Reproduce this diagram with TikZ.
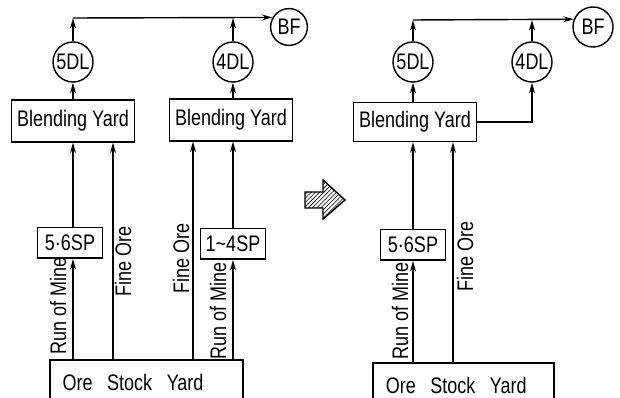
\documentclass[tikz,border=0pt]{standalone}
\usepackage{fontspec}
\setmainfont{Liberation Sans}[FakeStretch=0.8]
\usetikzlibrary{positioning,patterns,calc,arrows.meta}

\begin{document}
\begin{tikzpicture}[x=0.025cm, y=-0.025cm, >={Stealth[length=7.5pt,width=4.2pt]}, line width=1pt, font=\fontsize{16}{18}\selectfont]
  \tikzstyle{yard} = [rectangle, draw, minimum width=3.08cm, minimum height=1.04cm, inner sep=1pt]
  \tikzstyle{stock} = [rectangle, draw, minimum height=1.1cm, inner xsep=0.32cm, align=left]
  \tikzstyle{plant} = [rectangle, draw, minimum width=1.63cm, minimum height=0.76cm, inner sep=1pt]
  \tikzstyle{dl} = [circle, draw, minimum size=1cm, inner sep=0pt]
  \tikzstyle{flow} = [rotate=90, inner sep=1pt]

  \useasboundingbox (0,0) rectangle (620,398);

  % before
  \node[yard] (byL) at (73,121) {Blending Yard};
  \node[yard] (byM) at (231,120) {Blending Yard};
  \node[dl] (dlA) at (73,62) {5DL};
  \node[dl] (dlB) at (233,62) {4DL};
  \node[dl, minimum size=0.92cm] (bfL) at (289,27) {BF};
  \coordinate (busL) at (73,18);
  \node[plant] (spA) at (70,243) {5·6SP};
  \node[plant] (spB) at (233,244) {1\textasciitilde 4SP};
  \node[stock, text width=4.19cm] (osyL) at (146.5,382) {Ore\hspace{5pt} Stock\hspace{5pt} Yard};
  \coordinate (fineA) at (113,250);
  \coordinate (fineB) at (193,250);
  \coordinate (runB) at (233,250);
  \node[flow] (romA) at (58,306) {Run of Mine};
  \node[flow] (foA) at (123,261) {Fine Ore};
  \node[flow] (foB) at (181,258) {Fine Ore};
  \node[flow] (romB) at (218,311) {Run of Mine};

  \draw[->] (osyL.north -| busL) -- (spA.south -| busL);
  \draw[->] (spA.north -| busL) -- (byL.south -| busL);
  \draw[->] (osyL.north -| fineA) -- (byL.south -| fineA);
  \draw[->] (osyL.north -| fineB) -- (byM.south -| fineB);
  \draw[->] (osyL.north -| runB) -- (spB.south -| runB);
  \draw[->] (spB.north -| runB) -- (byM.south -| runB);
  \draw[->] (byL.north -| dlA) -- (dlA);
  \draw[->] (byM.north -| dlB) -- (dlB);
  \draw[->] (dlA) -- (busL);
  \draw[->] (busL) -- (bfL.150);
  \draw[->] (dlB) -- (dlB |- busL);

  % change
  \draw[pattern=north east lines] (305,192) -- (323,192) -- (323,180) -- (345,200)
    -- (323,219) -- (323,208) -- (305,208) -- cycle;

  % after
  \node[yard, minimum height=0.98cm] (byR) at (415,122) {Blending Yard};
  \node[dl] (dlC) at (413,62) {5DL};
  \node[dl] (dlD) at (532,62) {4DL};
  \node[dl] (bfR) at (593,27) {BF};
  \coordinate (busR) at (413,20);
  \node[plant] (spC) at (413,245) {5·6SP};
  \node[stock, text width=3.88cm] (osyR) at (463.5,385) {Ore\hspace{5pt} Stock\hspace{5pt} Yard};
  \coordinate (fineC) at (453,250);
  \node[flow] (romC) at (400,311) {Run of Mine};
  \node[flow] (foC) at (465,256) {Fine Ore};

  \draw[->] (osyR.north -| busR) -- (spC.south -| busR);
  \draw[->] (spC.north -| busR) -- (byR.south -| busR);
  \draw[->] (osyR.north -| fineC) -- (byR.south -| fineC);
  \draw[->] (byR.north -| dlC) -- (dlC);
  \draw[->] (byR.east) -| (dlD);
  \draw[->] (dlC) -- (busR);
  \draw[->] (busR) -- (bfR.158);
  \draw[->] (dlD) -- (dlD |- busR);
\end{tikzpicture}
\end{document}
